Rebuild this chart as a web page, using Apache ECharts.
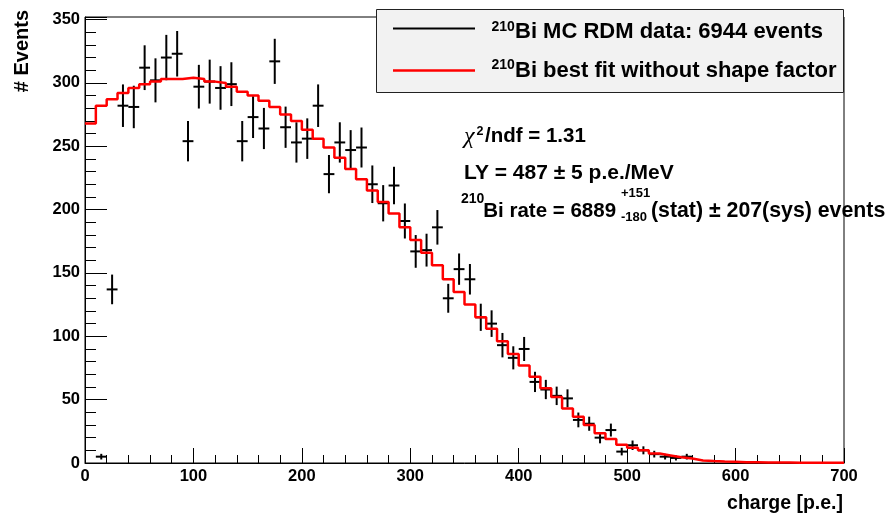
<!DOCTYPE html>
<html><head><meta charset="utf-8">
<script src="https://cdn.jsdelivr.net/npm/echarts@6/dist/echarts.min.js"></script>
<style>html,body{margin:0;padding:0;background:#fff}#c{width:891px;height:518px}</style>
</head><body><div id="c"></div>
<script>
// ---- data ----
const dataCharge = [15,25,35,45,55,65,75,85,95,105,115,125,135,145,155,165,175,185,195,205,
  215,225,235,245,255,265,275,285,295,305,315,325,335,345,355,365,375,385,395,405,
  415,425,435,445,455,465,475,485,495,505,515,525,535,545,555];
const dataCounts = [5,137,282,281,312,302,320,323,254,297,301,296,299,254,273,264,317,265,253,256,
  282,228,253,247,249,220,205,219,191,167,168,186,130,153,145,115,110,93,83,90,
  64,58,53,51,34,31,20,26,9,14,10,7,5,4,5];
const binHalfWidth = 5;

const fitBinLow = [0,10,20,30,40,50,60,70,80,90,100,110,120,130,140,150,160,170,180,190,
  200,210,220,230,240,250,260,270,280,290,300,310,320,330,340,350,360,370,380,390,
  400,410,420,430,440,450,460,470,480,490,500,510,520,530,540,550,560,570,580,590,
  600,610,620,630,640,650,660,670,680,690];
const fitValues = [268,282,287,292,296,299,301,303,303,304,303,301,300,297,293,290,286,281,275,270,
  263,256,249,241,232,224,215,206,197,186,176,166,156,145,135,125,115,106,96,86,
  77,68,59,52,43,36.5,30,23.5,19,14.5,12,10,7.5,6,4.5,3.5,2,1.5,1.2,1,
  0.6,0.5,0.4,0.3,0.3,0.2,0.2,0.2,0.2,0.2];
const xMax = 700;
const yMax = 352;

const legendLabels = ['Bi MC RDM data: 6944 events', 'Bi best fit without shape factor'];

// ---- chart ----
const chart = echarts.init(document.getElementById('c'), null, {renderer: 'canvas'});
const FONT = '"Liberation Sans", Arial, Helvetica, sans-serif';

const fitLine = fitBinLow.map((x, i) => [x, fitValues[i]]);
fitLine.push([xMax, fitValues[fitValues.length - 1]]);
const pts = dataCharge.map((x, i) => [x, dataCounts[i], Math.sqrt(dataCounts[i])]);

function txt(text, x, y, size, opts) {
  opts = opts || {};
  return {
    type: 'text', x: x, y: y, z: 100, silent: true,
    rotation: opts.rotation || 0,
    style: {
      text: text,
      fill: '#000',
      fontFamily: opts.family || FONT,
      fontWeight: opts.weight || 'bold',
      fontStyle: opts.style || 'normal',
      fontSize: size,
      align: opts.align || 'left',
      verticalAlign: 'middle'
    }
  };
}

const option = {
  animation: false,
  backgroundColor: '#fff',
  grid: {left: 85, right: 47, top: 17, bottom: 55, show: true, borderColor: '#000', borderWidth: 1, backgroundColor: 'transparent'},
  xAxis: {
    type: 'value', min: 0, max: xMax, interval: 100,
    axisLine: {show: true, onZero: false, lineStyle: {color: '#000', width: 1}},
    axisTick: {show: true, inside: true, length: 15, lineStyle: {color: '#000', width: 1}},
    minorTick: {show: true, splitNumber: 5, length: 8, lineStyle: {color: '#000', width: 1}},
    splitLine: {show: false},
    axisLabel: {color: '#000', fontFamily: FONT, fontWeight: 'bold', fontSize: 16.5, margin: 5}
  },
  yAxis: {
    type: 'value', min: 0, max: yMax, interval: 50,
    axisLine: {show: true, onZero: false, lineStyle: {color: '#000', width: 1}},
    axisTick: {show: true, inside: true, length: 22, lineStyle: {color: '#000', width: 1}},
    minorTick: {show: true, splitNumber: 5, length: 11, lineStyle: {color: '#000', width: 1}},
    splitLine: {show: false},
    axisLabel: {color: '#000', fontFamily: FONT, fontWeight: 'bold', fontSize: 16.5, margin: 5,
      formatter: v => (v % 50 === 0 ? String(v) : '')}
  },
  series: [
    {
      type: 'custom', name: 'data', z: 2,
      data: pts,
      renderItem: function (params, api) {
        const x = api.value(0), y = api.value(1), e = api.value(2);
        const c = api.coord([x, y]);
        const t = api.coord([x, y + e]);
        const b = api.coord([x, Math.max(0, y - e)]);
        const l = api.coord([x - binHalfWidth, y]);
        const r = api.coord([x + binHalfWidth, y]);
        return {
          type: 'group',
          children: [
            {type: 'line', shape: {x1: c[0], y1: t[1], x2: c[0], y2: b[1]}, style: {stroke: '#000', lineWidth: 2}},
            {type: 'line', shape: {x1: l[0], y1: c[1], x2: r[0], y2: c[1]}, style: {stroke: '#000', lineWidth: 2}}
          ]
        };
      }
    },
    {
      type: 'line', name: 'fit', z: 3, step: 'end', data: fitLine,
      symbol: 'none', lineStyle: {color: '#ff0000', width: 2.5}
    }
  ],
  graphic: [
    // legend box
    {type: 'rect', z: 90, shape: {x: 376.5, y: 9.5, width: 467, height: 83}, style: {fill: '#f2f2f2', stroke: '#222', lineWidth: 1}},
    {type: 'line', z: 95, shape: {x1: 393, y1: 28.5, x2: 475, y2: 28.5}, style: {stroke: '#000', lineWidth: 2}},
    {type: 'line', z: 95, shape: {x1: 393, y1: 70.5, x2: 475, y2: 70.5}, style: {stroke: '#ff0000', lineWidth: 2.5}},
    txt('210', 491.5, 26.8, 14),
    txt(legendLabels[0], 515, 32.3, 22),
    txt('210', 491.5, 65.1, 14),
    txt(legendLabels[1], 515, 71.3, 22),
    // fit results
    txt('\u03c7', 464, 137, 24, {family: '"Liberation Serif", "DejaVu Serif", serif', weight: 'normal', style: 'italic'}),
    txt('2', 476.5, 131.5, 12.5),
    txt('/ndf = 1.31', 485, 136, 20.5),
    txt('LY = 487 \u00b1 5 p.e./MeV', 464, 173.7, 21),
    txt('210', 461, 199.4, 14),
    txt('Bi rate = 6889', 483.3, 211, 20.5),
    txt('+151', 621, 193, 13),
    txt('-180', 621, 217, 13),
    txt('(stat) \u00b1 207(sys) events', 651, 211, 21.3),
    // axis titles
    txt('charge [p.e.]', 843, 504, 19.5, {align: 'right'}),
    txt('# Events', 22, 10, 20, {align: 'right', rotation: Math.PI / 2})
  ]
};
chart.setOption(option);
</script>
</body></html>
